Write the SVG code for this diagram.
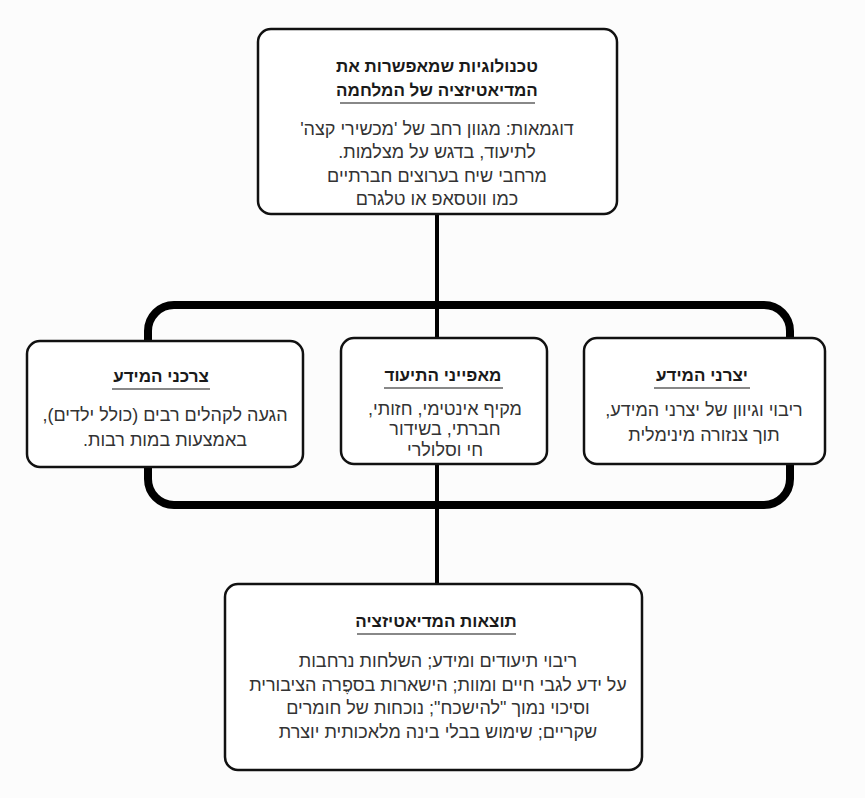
<svg xmlns="http://www.w3.org/2000/svg" width="865" height="798" viewBox="0 0 865 798">
<style>
.box{fill:#fff;stroke:#111;stroke-width:2.5}
.t{font-family:"Liberation Sans",Arial,sans-serif;font-size:17px;fill:#1a1a1a;font-weight:bold;text-anchor:middle;direction:rtl}
.b{font-family:"Liberation Sans",Arial,sans-serif;font-size:18px;fill:#333;text-anchor:middle;direction:rtl}
.ul{stroke:#888;stroke-width:2}
</style>
<rect width="865" height="798" fill="#fcfcfc"/>
<g id="connectors" fill="none" stroke="#000">
<line x1="437" y1="212" x2="437" y2="586" stroke-width="4"/>
<rect x="148" y="305" width="642" height="200" rx="26" stroke-width="8"/>
</g>
<g id="top">
<rect class="box" x="258" y="29" width="359" height="185" rx="13"/>
<text class="t" x="437" y="72">טכנולוגיות שמאפשרות את</text>
<text class="t" x="437" y="96">המדיאטיזציה של המלחמה</text>
<line class="ul" x1="340" y1="103" x2="535" y2="103"/>
<text class="b" x="437" y="135">דוגמאות: מגוון רחב של 'מכשירי קצה'</text>
<text class="b" x="437" y="158">לתיעוד, בדגש על מצלמות.</text>
<text class="b" x="437" y="182">מרחבי שיח בערוצים חברתיים</text>
<text class="b" x="437" y="205">כמו ווטסאפ או טלגרם</text>
</g>
<g id="consumers">
<rect class="box" x="27" y="341" width="276" height="126" rx="13"/>
<text class="t" x="161" y="382">צרכני המידע</text>
<line class="ul" x1="112" y1="389" x2="210" y2="389"/>
<text class="b" x="165" y="421">הגעה לקהלים רבים (כולל ילדים),</text>
<text class="b" x="165" y="446">באמצעות במות רבות.</text>
</g>
<g id="characteristics">
<rect class="box" x="341" y="338" width="206" height="126" rx="13"/>
<text class="t" x="443" y="381">מאפייני התיעוד</text>
<line class="ul" x1="384" y1="388" x2="503" y2="388"/>
<text class="b" x="445" y="415">מקיף אינטימי, חזותי,</text>
<text class="b" x="445" y="435">חברתי, בשידור</text>
<text class="b" x="445" y="456">חי וסלולרי</text>
</g>
<g id="producers">
<rect class="box" x="584" y="338" width="241" height="126" rx="13"/>
<text class="t" x="702" y="381">יצרני המידע</text>
<line class="ul" x1="654" y1="388" x2="750" y2="388"/>
<text class="b" x="704" y="416">ריבוי וגיוון של יצרני המידע,</text>
<text class="b" x="704" y="441">תוך צנזורה מינימלית</text>
</g>
<g id="outcomes">
<rect class="box" x="225" y="584" width="417" height="186" rx="13"/>
<text class="t" x="436" y="627">תוצאות המדיאטיזציה</text>
<line class="ul" x1="357" y1="634" x2="516" y2="634"/>
<text class="b" x="438" y="667">ריבוי תיעודים ומידע; השלחות נרחבות</text>
<text class="b" x="438" y="691">על ידע לגבי חיים ומוות; הישארות בספֶרה הציבורית</text>
<text class="b" x="438" y="714">וסיכוי נמוך "להישכח"; נוכחות של חומרים</text>
<text class="b" x="438" y="738">שקריים; שימוש בבלי בינה מלאכותית יוצרת</text>
</g>
</svg>
